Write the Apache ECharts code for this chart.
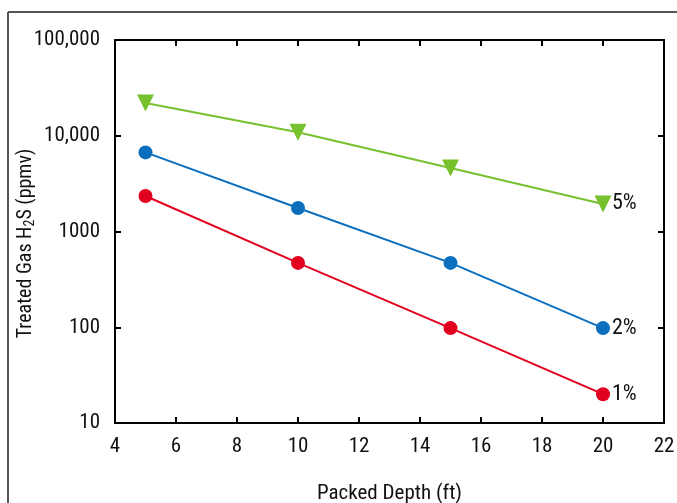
<!DOCTYPE html>
<html><head><meta charset="utf-8">
<script src="https://cdn.jsdelivr.net/npm/echarts@6/dist/echarts.min.js"></script>
<style>html,body{margin:0;padding:0;background:#fff}#c{width:677px;height:503px}</style>
</head><body><div id="c"></div>
<script>
const depths = [5, 10, 15, 20];
const seriesNames = ['5%', '2%', '1%'];
const h2s5 = [22000, 10900, 4600, 1940];
const h2s2 = [6700, 1760, 470, 98];
const h2s1 = [2350, 470, 98, 20];
const yTickLabels = {10: '10', 100: '100', 1000: '1000', 10000: '10,000', 100000: '100,000'};

const FONT = '"Roboto Condensed", "DejaVu Sans Condensed", sans-serif';
const chart = echarts.init(document.getElementById('c'));
const pts = arr => depths.map((d, i) => [d, arr[i]]);
function mk(name, data, color, symbol, size, rot) {
  return {
    name, type: 'line', data: pts(data), color,
    symbol, symbolSize: size, symbolRotate: rot,
    lineStyle: {width: 2, color},
    itemStyle: {color},
    endLabel: {show: true, formatter: name, color: '#111', fontSize: 22, fontFamily: FONT, distance: 9},
    z: 3
  };
}
chart.setOption({
  animation: false,
  grid: {left: 115, right: 13, top: 40, bottom: 80, containLabel: false, outerBoundsMode: 'none'},
  graphic: [
    {type: 'line', shape: {x1: 8, y1: 12, x2: 677, y2: 12}, style: {stroke: '#555', lineWidth: 2}},
    {type: 'line', shape: {x1: 8, y1: 12, x2: 8, y2: 503}, style: {stroke: '#555', lineWidth: 2}}
  ],
  xAxis: [{
    type: 'value', min: 4, max: 22, interval: 2,
    name: 'Packed Depth (ft)', nameLocation: 'middle', nameGap: 60, nameMoveOverlap: false,
    nameTextStyle: {fontSize: 21, color: '#111', fontFamily: FONT},
    axisLine: {lineStyle: {color: '#000', width: 2}},
    axisTick: {inside: true, length: 6, lineStyle: {color: '#000', width: 2}},
    axisLabel: {fontSize: 21, color: '#111', fontFamily: FONT, margin: 13},
    splitLine: {show: false}
  }, {
    type: 'value', min: 4, max: 22, interval: 2, position: 'top',
    axisLine: {show: true, lineStyle: {color: '#000', width: 2}},
    axisTick: {inside: true, length: 6, lineStyle: {color: '#000', width: 2}},
    axisLabel: {show: false}, splitLine: {show: false}
  }],
  yAxis: [{
    type: 'log', logBase: 10, min: 10, max: 100000,
    name: '{n|Treated Gas H}{s|2}{n|S (ppmv)}', nameLocation: 'middle', nameGap: 78, nameRotate: 90,
    nameMoveOverlap: false,
    nameTextStyle: {padding: [0, 24, 0, 0], rich: {
      n: {fontSize: 20, color: '#111', fontFamily: FONT},
      s: {fontSize: 14, color: '#111', fontFamily: FONT, verticalAlign: 'bottom', padding: [9, 0, 0, 0]}
    }},
    axisLine: {show: true, lineStyle: {color: '#000', width: 2}},
    axisTick: {inside: true, length: 6, lineStyle: {color: '#000', width: 2}},
    axisLabel: {fontSize: 21, color: '#111', fontFamily: FONT, margin: 15,
      formatter: v => yTickLabels[Math.round(v)] || ''},
    minorTick: {show: false}, splitLine: {show: false}
  }, {
    type: 'log', logBase: 10, min: 10, max: 100000, position: 'right',
    axisLine: {show: true, lineStyle: {color: '#000', width: 2}},
    axisTick: {inside: true, length: 6, lineStyle: {color: '#000', width: 2}},
    axisLabel: {show: false}, splitLine: {show: false}
  }],
  series: [
    mk(seriesNames[0], h2s5, '#78c12e', 'triangle', 17, 180),
    mk(seriesNames[1], h2s2, '#0b6fbe', 'circle', 14, 0),
    mk(seriesNames[2], h2s1, '#e1001e', 'circle', 14, 0)
  ]
});
</script></body></html>
